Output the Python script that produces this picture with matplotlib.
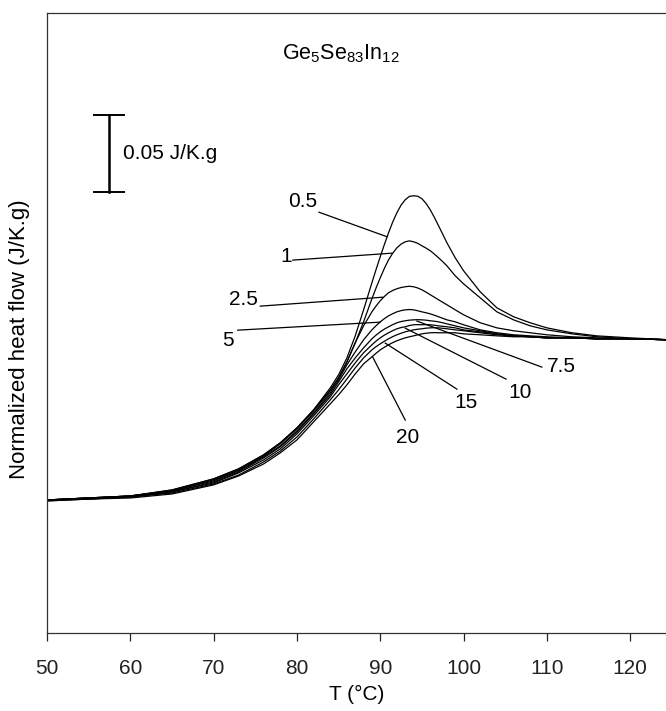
import matplotlib
matplotlib.use("Agg")
import matplotlib.pyplot as plt

plt.rcParams['font.family'] = ['Liberation Sans', 'DejaVu Sans']
plt.rcParams['mathtext.fontset'] = 'custom'
plt.rcParams['mathtext.rm'] = 'Liberation Sans'
plt.rcParams['mathtext.it'] = 'Liberation Sans'

# Temperature grid (°C)
T = [50, 55, 60, 65, 70, 73, 76, 78, 80, 82, 84, 85, 86, 87, 88, 89, 89.5, 90, 90.5,
     91, 91.5, 92, 92.5, 93, 93.5, 94, 94.5, 95, 95.5, 96, 96.5, 97, 97.5, 98, 99,
     100, 102, 104, 106, 108, 110, 113, 116, 120, 125]

# Normalized heat flow (mJ/K.g, relative to low-T baseline), per heating rate (K/min)
rates = ["0.5", "1", "2.5", "5", "7.5", "10", "15", "20"]
hf_05 = [0, 1.3, 2.6, 6.5, 13.7, 20.2, 29.3, 37.1, 46.8, 58.5, 72.8, 81.3, 92.3, 106.6,
         123.5, 141.1, 149.7, 158.0, 166.0, 173.6, 180.6, 186.6, 191.5, 195.0, 197.2,
         197.6, 197.3, 195.7, 192.6, 188.5, 183.5, 178.1, 172.6, 167.1, 157.3,
         148.9, 135.2, 124.8, 119.0, 115.1, 111.8, 108.6, 106.6, 105.3, 104.0]
hf_1 = [0, 1.3, 2.6, 6.5, 13.7, 20.2, 29.3, 37.1, 46.8, 58.5, 71.5, 79.3, 89.7, 102.1,
        115.7, 130.7, 137.7, 144.3, 150.5, 156.0, 160.3, 163.8, 166.2, 167.7, 168.3,
        167.7, 166.7, 165.1, 163.6, 161.9, 159.7, 157.3, 154.8, 152.1, 145.6,
        140.4, 131.3, 122.2, 117.0, 113.1, 110.5, 107.9, 106.0, 104.7, 104.0]
hf_25 = [0, 1.3, 2.6, 5.9, 13.0, 19.5, 28.6, 36.4, 46.2, 57.9, 70.9, 79.3, 89.7, 102.1,
         113.1, 122.2, 126.0, 129.4, 132.2, 134.6, 136.1, 137.2, 138.0, 138.5, 138.8,
         138.5, 137.7, 136.5, 135.0, 133.3, 131.7, 130.0, 128.4, 126.8, 123.5,
         120.3, 115.1, 111.8, 109.9, 108.6, 107.3, 106.0, 105.3, 104.7, 104.0]
hf_5 = [0, 1.3, 2.6, 5.9, 12.4, 18.9, 28.0, 35.1, 44.9, 56.6, 69.6, 78.0, 87.8, 96.2,
        104.0, 110.5, 113.2, 115.7, 117.8, 119.6, 121.0, 122.2, 123.0, 123.5, 123.7,
        123.5, 122.9, 122.2, 121.6, 120.9, 120.0, 119.0, 118.0, 117.0, 115.7,
        113.8, 110.5, 108.6, 107.3, 106.6, 106.0, 105.3, 104.7, 104.7, 104.0]
hf_75 = [0, 1.3, 2.0, 5.2, 11.7, 18.2, 27.3, 34.5, 44.2, 55.9, 68.3, 76.7, 85.2, 92.3,
         98.8, 104.7, 107.1, 109.2, 111.0, 112.5, 113.9, 115.1, 115.9, 116.4, 116.8,
         117.0, 117.1, 117.0, 116.8, 116.4, 116.1, 115.7, 115.1, 114.4, 113.1,
         111.8, 109.9, 107.9, 106.6, 106.0, 105.3, 105.3, 104.7, 104.7, 104.0]
hf_10 = [0, 0.6, 2.0, 5.2, 11.1, 17.6, 26.0, 33.2, 42.9, 54.6, 67.0, 74.8, 81.9, 89.1,
         95.6, 100.8, 103.2, 105.3, 107.1, 108.6, 110.0, 111.2, 112.0, 112.5, 113.3,
         113.8, 113.9, 113.8, 113.9, 113.8, 113.5, 113.1, 112.8, 112.5, 111.8,
         110.5, 109.2, 107.9, 106.6, 106.0, 105.3, 105.3, 104.7, 104.7, 104.0]
hf_15 = [-0.6, 0.6, 2.0, 4.5, 10.4, 16.2, 24.7, 31.8, 40.9, 52.6, 65.0, 71.5, 78.6, 85.8,
         92.3, 97.5, 99.6, 101.4, 103.1, 104.7, 106.1, 107.3, 108.3, 109.2, 109.9,
         110.5, 110.9, 111.2, 111.6, 111.8, 111.9, 111.8, 111.5, 111.2, 110.5,
         109.9, 108.6, 107.3, 106.6, 106.0, 105.3, 105.3, 104.7, 104.7, 104.0]
hf_20 = [-0.6, 0.6, 1.3, 3.9, 9.8, 15.6, 23.4, 30.6, 39.0, 50.7, 62.4, 68.3, 74.8, 81.9,
         88.4, 93.0, 95.3, 97.5, 99.2, 100.8, 102.2, 103.4, 104.4, 105.3, 106.0,
         106.6, 107.3, 107.9, 108.3, 108.6, 108.7, 108.6, 108.6, 108.6, 108.6,
         107.9, 107.3, 106.6, 106.0, 106.0, 105.3, 105.3, 104.7, 104.7, 104.0]
curves = [hf_05, hf_1, hf_25, hf_5, hf_75, hf_10, hf_15, hf_20]

# Label placements: text position, leader line start and end (data coords)
label_text_xy = [(80.7, 194.0), (78.7, 158.4), (73.6, 130.4), (71.7, 103.8),
                 (111.7, 87.0), (106.8, 70.1), (100.3, 63.6), (93.3, 40.9)]
leader_start = [(82.65, 186.9), (79.5, 155.8), (75.6, 125.9), (72.9, 110.3),
                (109.4, 86.3), (105.1, 78.5), (99.2, 72.0), (93.0, 51.9)]
leader_end = [(90.8, 171.0), (91.4, 160.3), (90.3, 131.7), (90.0, 115.5),
              (94.4, 116.2), (93.0, 111.6), (90.6, 101.9), (89.1, 92.8)]

xticks = [50, 60, 70, 80, 90, 100, 110, 120]

fig = plt.figure(figsize=(6.66, 7.11), dpi=100)
ax = fig.add_axes([47/666, 78/711, 619/666, 620/711])

for y in curves:
    ax.plot(T, y, color='black', lw=0.9, solid_joinstyle='round')

for lab, txy, s, e in zip(rates, label_text_xy, leader_start, leader_end):
    ax.plot([s[0], e[0]], [s[1], e[1]], color='black', lw=0.9)
    ax.text(txy[0], txy[1], lab, ha='center', va='center', fontsize=15)

# scale bar 0.05 J/K.g = 50 mJ/K.g
sb_x, sb_bottom, sb_len = 57.44, 200.0, 50.0
ax.plot([sb_x, sb_x], [sb_bottom, sb_bottom + sb_len], color='black', lw=1.8)
for yy in (sb_bottom, sb_bottom + sb_len):
    ax.plot([sb_x - 1.8, sb_x + 1.8], [yy, yy], color='black', lw=1.4)
ax.text(59.1, sb_bottom + sb_len / 2, '0.05 J/K.g', ha='left', va='center', fontsize=15)

ax.text(0.475, 0.934, r'Ge$_5$Se$_{83}$In$_{12}$', transform=ax.transAxes,
        ha='center', va='center', fontsize=15.5)

ax.set_xlim(50, 124.3)
ax.set_ylim(-86.4, 316.3)
ax.set_xticks(xticks)
ax.set_xticklabels([str(v) for v in xticks])
ax.set_yticks([])
ax.tick_params(axis='x', direction='out', length=6, width=0.9, pad=13, labelsize=15,
               colors='#222222')
for side in ('left', 'bottom', 'top'):
    ax.spines[side].set_linewidth(0.9)
    ax.spines[side].set_color('#333333')
ax.spines['right'].set_visible(False)

ax.set_xlabel('T (°C)', fontsize=15, labelpad=5)
ax.set_ylabel('Normalized heat flow (J/K.g)', fontsize=16)
ax.yaxis.set_label_coords(-0.028, 0.474)

fig.savefig('out.png', dpi=100)
